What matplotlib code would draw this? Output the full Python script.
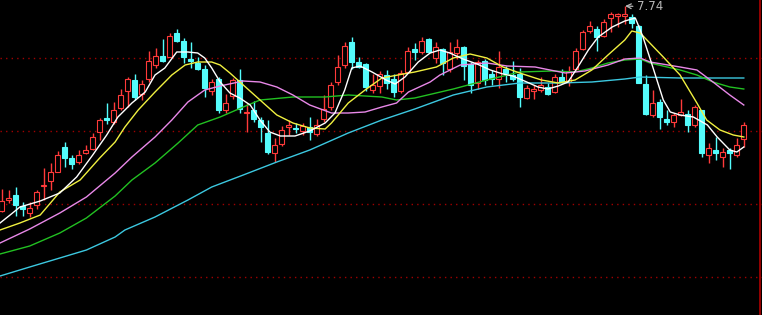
import matplotlib
matplotlib.use("Agg")
import matplotlib.pyplot as plt

# K线数据（开、高、低、收）
opens = [5.69, 5.80, 5.85, 5.74, 5.67, 5.75, 5.94, 5.99, 6.08, 6.33,
         6.22, 6.18, 6.27, 6.31, 6.48, 6.62, 6.58, 6.72, 6.89, 7.00,
         6.86, 7.01, 7.15, 7.24, 7.23, 7.47, 7.39, 7.21, 7.17, 7.11,
         6.89, 7.01, 6.70, 6.84, 7.00, 6.67, 6.70, 6.60, 6.47, 6.27,
         6.36, 6.53, 6.52, 6.49, 6.53, 6.46, 6.61, 6.73, 6.98, 7.15,
         7.38, 7.18, 7.16, 6.90, 6.94, 7.05, 7.01, 6.89, 7.08, 7.31,
         7.28, 7.41, 7.22, 7.31, 7.11, 7.27, 7.33, 7.16, 6.97, 7.19,
         7.06, 7.01, 7.11, 7.05, 7.06, 6.82, 6.89, 6.90, 6.93, 6.88,
         7.03, 6.98, 7.11, 7.31, 7.49, 7.51, 7.44, 7.62, 7.64, 7.64,
         7.63, 7.54, 6.96, 6.65, 6.78, 6.61, 6.58, 6.65, 6.66, 6.55,
         6.70, 6.25, 6.30, 6.23, 6.30, 6.25, 6.41]
highs = [5.91, 5.90, 5.93, 5.78, 5.78, 5.90, 6.12, 6.17, 6.29, 6.38,
         6.25, 6.30, 6.35, 6.47, 6.62, 6.77, 6.78, 6.91, 7.03, 7.06,
         7.00, 7.29, 7.32, 7.41, 7.47, 7.51, 7.42, 7.38, 7.23, 7.15,
         7.01, 7.03, 6.86, 7.02, 7.11, 6.77, 6.79, 6.63, 6.60, 6.42,
         6.54, 6.60, 6.57, 6.57, 6.63, 6.61, 6.85, 6.98, 7.25, 7.38,
         7.43, 7.23, 7.17, 7.06, 7.09, 7.10, 7.06, 7.10, 7.33, 7.37,
         7.43, 7.42, 7.38, 7.32, 7.38, 7.41, 7.34, 7.18, 7.20, 7.21,
         7.10, 7.29, 7.14, 7.19, 7.12, 6.95, 6.95, 7.03, 6.97, 7.06,
         7.11, 7.14, 7.32, 7.50, 7.59, 7.54, 7.61, 7.68, 7.67, 7.74,
         7.66, 7.55, 7.05, 6.90, 6.81, 6.70, 6.67, 6.81, 6.70, 6.75,
         6.70, 6.37, 6.43, 6.32, 6.32, 6.42, 6.58]
lows = [5.68, 5.77, 5.64, 5.64, 5.63, 5.71, 5.80, 5.90, 6.08, 6.13,
        6.11, 6.16, 6.26, 6.30, 6.40, 6.56, 6.56, 6.70, 6.73, 6.80,
        6.80, 6.98, 7.12, 7.18, 7.23, 7.38, 7.17, 7.12, 7.10, 6.83,
        6.85, 6.67, 6.67, 6.81, 6.67, 6.48, 6.58, 6.38, 6.26, 6.18,
        6.34, 6.45, 6.47, 6.45, 6.40, 6.44, 6.58, 6.70, 6.95, 7.12,
        7.11, 7.12, 6.89, 6.87, 6.87, 6.91, 6.83, 6.87, 7.07, 7.20,
        7.26, 7.27, 7.17, 7.05, 7.08, 7.21, 7.00, 6.87, 6.91, 6.95,
        6.95, 6.92, 6.98, 6.99, 6.73, 6.81, 6.81, 6.88, 6.85, 6.87,
        6.97, 6.94, 7.10, 7.30, 7.47, 7.29, 7.43, 7.48, 7.53, 7.56,
        7.52, 6.97, 6.65, 6.63, 6.51, 6.55, 6.53, 6.64, 6.48, 6.53,
        6.23, 6.17, 6.20, 6.13, 6.11, 6.23, 6.33]
closes = [5.79, 5.82, 5.75, 5.71, 5.72, 5.88, 5.95, 6.08, 6.25, 6.22,
          6.16, 6.25, 6.30, 6.43, 6.60, 6.60, 6.70, 6.85, 7.01, 6.83,
          6.96, 7.19, 7.24, 7.19, 7.44, 7.39, 7.23, 7.19, 7.11, 6.92,
          6.98, 6.70, 6.77, 7.00, 6.71, 6.68, 6.61, 6.53, 6.28, 6.35,
          6.50, 6.55, 6.51, 6.54, 6.48, 6.55, 6.71, 6.95, 7.13, 7.34,
          7.18, 7.13, 6.93, 6.95, 7.06, 6.97, 6.88, 7.07, 7.29, 7.28,
          7.39, 7.28, 7.33, 7.17, 7.28, 7.33, 7.14, 6.95, 7.18, 7.00,
          7.01, 7.13, 7.07, 7.01, 6.83, 6.92, 6.91, 6.95, 6.86, 7.03,
          6.98, 7.09, 7.29, 7.48, 7.54, 7.43, 7.58, 7.66, 7.66, 7.66,
          7.57, 6.97, 6.66, 6.77, 6.63, 6.58, 6.65, 6.68, 6.55, 6.73,
          6.27, 6.32, 6.27, 6.28, 6.27, 6.35, 6.55]

# 均线（横坐标为K线序号）
ma5_x = [-0.24, 1.2, 2.6, 5.5, 8.3, 10.7, 13.0, 15.0, 16.6, 18.6, 20.5, 21.9,
         23.3, 25.0, 26.6, 28.0, 29.0, 30.0, 31.2, 32.6, 34.0, 35.5, 36.9,
         38.3, 39.8, 41.9, 44.0, 46.2, 47.6, 49.0, 50.0, 51.2, 52.9, 54.9,
         56.2, 57.6, 59.5, 61.2, 62.6, 64.0, 65.9, 67.9, 69.8, 71.6, 73.0,
         75.0, 76.6, 78.0, 79.5, 80.9, 82.3, 83.8, 85.2, 87.2, 89.0, 90.5,
         90.8, 91.6, 93.0, 94.5, 95.5, 96.9, 98.8, 100.8, 102.2, 104.0,
         105.0, 106.0]
ma5_y = [5.57, 5.65, 5.73, 5.79, 5.87, 6.03, 6.25, 6.45, 6.63, 6.77, 6.88, 7.05,
         7.12, 7.28, 7.28, 7.27, 7.22, 7.12, 6.98, 6.87, 6.82, 6.75, 6.60,
         6.48, 6.44, 6.44, 6.49, 6.57, 6.67, 6.90, 7.12, 7.14, 7.08, 7.00,
         6.96, 7.03, 7.18, 7.27, 7.30, 7.27, 7.21, 7.16, 7.10, 7.06, 7.04,
         6.98, 6.93, 6.91, 6.94, 6.98, 7.13, 7.30, 7.43, 7.53, 7.59, 7.62,
         7.57, 7.43, 7.13, 6.80, 6.68, 6.65, 6.63, 6.55, 6.43, 6.30,
         6.28, 6.33]
ma10_x = [-0.24, 2.6, 5.5, 8.3, 11.2, 14.0, 16.2, 17.6, 19.5, 21.9, 24.3, 26.2,
          28.0, 30.0, 31.2, 32.6, 34.5, 36.9, 39.3, 41.6, 44.0, 46.2, 47.1,
          49.5, 51.9, 54.3, 56.6, 59.0, 62.1, 64.5, 66.9, 69.3, 71.6, 74.0,
          76.2, 77.1, 79.5, 81.9, 84.3, 86.6, 89.0, 90.0, 91.2, 94.5, 96.9,
          99.3, 100.7, 102.6, 104.5, 106.0]
ma10_y = [5.50, 5.57, 5.65, 5.88, 6.00, 6.22, 6.38, 6.53, 6.70, 6.88, 7.05, 7.15,
          7.18, 7.18, 7.15, 7.07, 6.95, 6.80, 6.65, 6.57, 6.52, 6.51, 6.57,
          6.77, 6.90, 7.02, 7.05, 7.08, 7.13, 7.22, 7.26, 7.22, 7.13, 7.07,
          7.02, 7.00, 6.97, 7.00, 7.10, 7.25, 7.40, 7.49, 7.47, 7.23, 7.05,
          6.77, 6.60, 6.50, 6.45, 6.43]
ma20_x = [-0.24, 4.0, 8.3, 12.1, 16.2, 18.6, 21.9, 24.3, 26.6, 29.0, 31.2, 34.5,
          36.9, 39.3, 41.6, 44.0, 47.1, 49.5, 51.9, 54.3, 56.4, 58.1, 61.2,
          62.6, 65.5, 69.3, 72.2, 76.2, 77.6, 80.5, 83.3, 86.6, 89.0, 91.2,
          92.6, 96.9, 99.3, 101.6, 104.0, 106.0]
ma20_y = [5.37, 5.51, 5.67, 5.83, 6.07, 6.23, 6.43, 6.60, 6.78, 6.90, 6.94, 6.99,
          6.98, 6.93, 6.85, 6.75, 6.67, 6.67, 6.68, 6.73, 6.77, 6.88, 6.98,
          7.05, 7.15, 7.17, 7.14, 7.13, 7.11, 7.07, 7.09, 7.15, 7.21, 7.22,
          7.18, 7.13, 7.10, 6.98, 6.85, 6.75]
ma30_x = [-0.24, 4.0, 8.3, 12.1, 16.2, 18.6, 21.9, 25.2, 28.0, 31.2, 34.5, 36.9,
          41.6, 46.2, 49.5, 54.3, 56.4, 59.0, 64.5, 69.3, 74.0, 78.6, 81.9,
          84.3, 86.6, 89.0, 91.2, 92.6, 96.9, 99.3, 101.6, 104.0, 106.0]
ma30_y = [5.26, 5.34, 5.47, 5.62, 5.84, 6.00, 6.17, 6.37, 6.55, 6.63, 6.73, 6.80,
          6.83, 6.83, 6.85, 6.83, 6.80, 6.82, 6.91, 7.00, 7.08, 7.09, 7.08,
          7.12, 7.17, 7.20, 7.21, 7.17, 7.10, 7.05, 6.98, 6.93, 6.91]
ma60_x = [-0.24, 4.0, 8.3, 12.1, 16.2, 17.6, 21.9, 26.6, 30.0, 34.5, 39.3, 44.0,
          49.5, 54.3, 59.0, 64.5, 69.3, 74.0, 79.5, 84.3, 89.0, 91.2, 96.9,
          106.0]
ma60_y = [5.04, 5.13, 5.22, 5.30, 5.43, 5.50, 5.63, 5.80, 5.93, 6.05, 6.18, 6.30,
          6.47, 6.60, 6.71, 6.85, 6.93, 6.97, 6.97, 6.98, 7.01, 7.03, 7.02,
          7.02]

grid_levels = [7.22, 6.49, 5.76, 5.03]
high_idx = 89
high_label = "7.74"

RED = "#ff3a3a"
CYAN = "#54fcfc"

fig = plt.figure(figsize=(7.62, 3.15), dpi=100, facecolor="black")
ax = fig.add_axes([0, 0, 1, 1], facecolor="black")

for y in grid_levels:
    ax.axhline(y, color="#a00000", lw=1, linestyle=(0, (1, 3)), zorder=1)

for i, (o, h, l, c) in enumerate(zip(opens, highs, lows, closes)):
    up = c > o
    color = RED if up else CYAN
    ax.vlines(i, l, h, color=color, lw=1, zorder=2)
    body = max(abs(c - o), 0.012)
    ax.bar(i, body, bottom=min(o, c), width=0.66,
           facecolor="black" if up else color, edgecolor=color, lw=0.8, zorder=3)

ax.plot(ma60_x, ma60_y, color="#3cc8e0", lw=1, zorder=4)
ax.plot(ma30_x, ma30_y, color="#22c022", lw=1, zorder=4)
ax.plot(ma20_x, ma20_y, color="#e888e8", lw=1, zorder=4)
ax.plot(ma10_x, ma10_y, color="#f0f040", lw=1, zorder=4)
ax.plot(ma5_x, ma5_y, color="white", lw=1, zorder=5)

# 最高价标注
ax.annotate(high_label, xy=(high_idx + 0.05, highs[high_idx]),
            xytext=(high_idx + 1.75, highs[high_idx] - 0.01),
            color="#b8b8b8", fontsize=8.5, ha="left", va="center",
            arrowprops=dict(arrowstyle="->", color="#b8b8b8", lw=0.9,
                            shrinkA=1, shrinkB=0))

ax.axvline(108.33, color="#b00000", lw=1.2, zorder=6)
ax.set_xlim(-0.243, 108.6)
ax.set_ylim(4.65, 7.80)
ax.axis("off")

fig.savefig("out.png", dpi=100, facecolor="black")
